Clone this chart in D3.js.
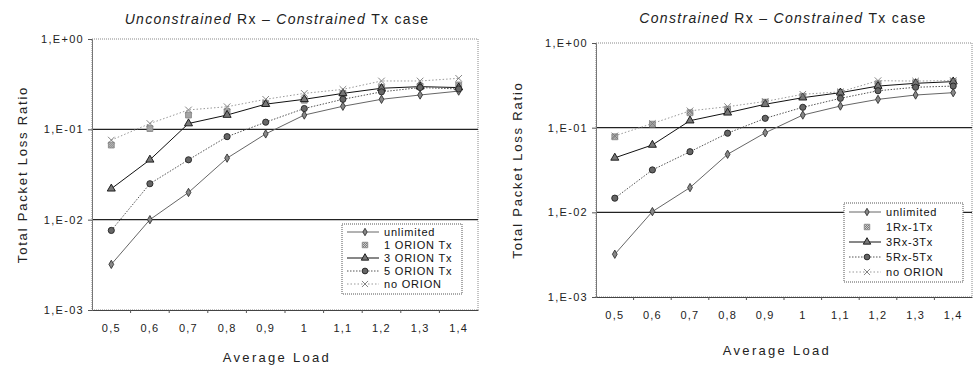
<!DOCTYPE html>
<html>
<head>
<meta charset="utf-8">
<script src="https://cdn.jsdelivr.net/npm/d3@7"></script>
<style>
  body { margin: 0; background: #fff; }
  svg { font-family: "Liberation Sans", Arial, sans-serif; }
</style>
</head>
<body>
<div id="result"></div>
<script>
// categories (average load) and y tick labels
const loads = ["0,5", "0,6", "0,7", "0,8", "0,9", "1", "1,1", "1,2", "1,3", "1,4"];
const yTicks = [1e-3, 1e-2, 1e-1, 1];
const yTickLabels = ["1,E-03", "1,E-02", "1,E-01", "1,E+00"];

// left chart: Unconstrained Rx - Constrained Tx
const leftNames = ["unlimited", "1 ORION Tx", "3 ORION Tx", "5 ORION Tx", "no ORION"];
const leftUnlimited = [0.0032, 0.010, 0.020, 0.048, 0.089, 0.144, 0.18, 0.215, 0.24, 0.265];
const leftOrion1 = [0.067, 0.102, 0.144, 0.157, 0.194, 0.21, 0.25, 0.29, 0.30, 0.31];
const leftOrion3 = [0.022, 0.046, 0.116, 0.144, 0.19, 0.215, 0.25, 0.285, 0.297, 0.29];
const leftOrion5 = [0.0076, 0.025, 0.046, 0.083, 0.12, 0.17, 0.215, 0.26, 0.29, 0.28];
const leftNoOrion = [0.076, 0.116, 0.164, 0.178, 0.215, 0.25, 0.277, 0.343, 0.343, 0.367];

// right chart: Constrained Rx - Constrained Tx
const rightNames = ["unlimited", "1Rx-1Tx", "3Rx-3Tx", "5Rx-5Tx", "no ORION"];
const rightUnlimited = [0.0032, 0.0102, 0.0196, 0.0485, 0.087, 0.141, 0.18, 0.216, 0.243, 0.259];
const right1 = [0.078, 0.11, 0.15, 0.165, 0.2, 0.235, 0.26, 0.33, 0.34, 0.35];
const right3 = [0.044, 0.0625, 0.121, 0.15, 0.189, 0.226, 0.259, 0.31, 0.334, 0.35];
const right5 = [0.0147, 0.0317, 0.052, 0.086, 0.129, 0.174, 0.222, 0.273, 0.30, 0.31];
const rightNoOrion = [0.08, 0.112, 0.158, 0.177, 0.204, 0.248, 0.265, 0.359, 0.355, 0.36];

// line/marker look per series index
const styles = [
    { stroke: "#666", dash: null, line: true, symbol: d3.symbolDiamond, size: 20, fill: "#888", mstroke: "#333" },
    { stroke: "#aaa", dash: "1,3", line: false, symbol: d3.symbolSquare, size: 34, fill: "url(#hatch)", mstroke: "#888" },
    { stroke: "#111", dash: null, line: true, symbol: d3.symbolTriangle, size: 28, fill: "#777", mstroke: "#111" },
    { stroke: "#555", dash: "1.5,1.5", line: true, symbol: d3.symbolCircle, size: 30, fill: "#666", mstroke: "#222" },
    { stroke: "#999", dash: "1.5,2", line: true, symbol: d3.symbolX, size: 30, fill: "none", mstroke: "#777" }
];

const svg = d3.select("#result").append("svg")
    .attr("width", 975)
    .attr("height", 366);

// hatch pattern for the "1 ORION" marker
const pat = svg.append("defs").append("pattern")
    .attr("id", "hatch")
    .attr("patternUnits", "userSpaceOnUse")
    .attr("width", 2).attr("height", 2);
pat.append("rect").attr("width", 2).attr("height", 2).attr("fill", "#ccc");
pat.append("path").attr("d", "M0,2 L2,0").attr("stroke", "#666").attr("stroke-width", 0.8);

function drawPanel(cfg) {
    const g = svg.append("g");

    const x = d3.scaleBand().domain(loads).range([cfg.left, cfg.right]);
    const y = d3.scaleLog().domain([1e-3, 1]).range([cfg.bottom, cfg.top]);
    const cx = d => x(d) + x.bandwidth() / 2;

    // plot border (dotted grey)
    g.append("rect")
        .attr("x", cfg.left).attr("y", cfg.top)
        .attr("width", cfg.right - cfg.left).attr("height", cfg.bottom - cfg.top)
        .attr("fill", "none")
        .attr("stroke", "#888")
        .attr("stroke-dasharray", "1,1");

    // horizontal grid lines at 1E-01 and 1E-02
    g.selectAll(".grid")
        .data([1e-1, 1e-2])
        .enter()
        .append("line")
        .attr("x1", cfg.left).attr("x2", cfg.right)
        .attr("y1", d => y(d)).attr("y2", d => y(d))
        .attr("stroke", "#222")
        .attr("stroke-width", 1.1);

    // y axis
    g.append("g")
        .attr("transform", `translate(${cfg.left},0)`)
        .call(d3.axisLeft(y).tickValues(yTicks).tickSize(4).tickPadding(4)
            .tickFormat((d, i) => yTickLabels[i]))
        .call(a => a.select(".domain").attr("stroke", "#777"))
        .call(a => a.selectAll("line").attr("stroke", "#555"))
        .call(a => a.selectAll("text").attr("font-size", 11).attr("fill", "#222")
            .attr("letter-spacing", 1.3).attr("font-family", "Liberation Sans, Arial"));

    // x axis: labels at category centres, ticks between categories
    g.append("g")
        .attr("transform", `translate(0,${cfg.bottom})`)
        .call(d3.axisBottom(x).tickSize(0).tickPadding(14))
        .call(a => a.select(".domain").attr("stroke", "#444"))
        .call(a => a.selectAll("text").attr("font-size", 11).attr("fill", "#222")
            .attr("letter-spacing", 1.2).attr("font-family", "Liberation Sans, Arial"));

    g.selectAll(".xtick")
        .data(loads.slice(1))
        .enter()
        .append("line")
        .attr("x1", d => x(d)).attr("x2", d => x(d))
        .attr("y1", cfg.bottom).attr("y2", cfg.bottom + 3)
        .attr("stroke", "#555");

    const line = d3.line()
        .x((d, i) => cx(loads[i]))
        .y(d => y(d));

    cfg.series.forEach((vals, si) => {
        const st = styles[si];
        if (st.line) {
            g.append("path")
                .datum(vals)
                .attr("fill", "none")
                .attr("stroke", st.stroke)
                .attr("stroke-width", 1)
                .attr("stroke-dasharray", st.dash)
                .attr("d", line);
        }
    });
    // markers drawn after all lines
    cfg.series.forEach((vals, si) => {
        const st = styles[si];
        g.selectAll(".m" + si)
            .data(vals)
            .enter()
            .append("path")
            .attr("transform", (d, i) => `translate(${cx(loads[i])},${y(d)})`)
            .attr("d", d3.symbol().type(st.symbol).size(st.size))
            .attr("fill", st.fill)
            .attr("stroke", st.mstroke)
            .attr("stroke-width", 0.9);
    });

    // legend
    const lg = g.append("g");
    lg.append("rect")
        .attr("x", cfg.legend.x).attr("y", cfg.legend.y)
        .attr("width", cfg.legend.w).attr("height", cfg.legend.h)
        .attr("fill", "#fff")
        .attr("stroke", "#555")
        .attr("stroke-dasharray", "1,1");
    cfg.names.forEach((name, si) => {
        const st = styles[si];
        const ly = cfg.legend.y + cfg.legend.first + si * cfg.legend.step;
        const lx = cfg.legend.x + 5;
        if (st.line) {
            lg.append("line")
                .attr("x1", lx).attr("x2", lx + 32)
                .attr("y1", ly).attr("y2", ly)
                .attr("stroke", st.stroke)
                .attr("stroke-dasharray", st.dash);
        }
        lg.append("path")
            .attr("transform", `translate(${lx + 18},${ly})`)
            .attr("d", d3.symbol().type(st.symbol).size(st.size - 4))
            .attr("fill", st.fill)
            .attr("stroke", st.mstroke)
            .attr("stroke-width", 0.9);
        lg.append("text")
            .attr("x", lx + 37).attr("y", ly)
            .attr("dy", "0.35em")
            .attr("font-size", 11)
            .attr("letter-spacing", 0.8)
            .attr("fill", "#111")
            .text(name);
    });

    // chart title: italic words mixed with upright ones
    const t = g.append("text")
        .attr("x", cfg.titleX).attr("y", cfg.titleY)
        .attr("text-anchor", "middle")
        .attr("font-size", 14)
        .attr("letter-spacing", 1.3)
        .attr("fill", "#222");
    cfg.title.forEach(p => {
        t.append("tspan")
            .attr("font-style", p[1] ? "italic" : "normal")
            .text(p[0]);
    });

    // axis titles
    g.append("text")
        .attr("x", cfg.xTitleX).attr("y", cfg.xTitleY)
        .attr("text-anchor", "middle")
        .attr("font-size", 13)
        .attr("letter-spacing", 2.3)
        .attr("fill", "#222")
        .text("Average Load");

    g.append("text")
        .attr("transform", `translate(${cfg.yTitleX},${(cfg.top + cfg.bottom) / 2}) rotate(-90)`)
        .attr("text-anchor", "middle")
        .attr("font-size", 13)
        .attr("letter-spacing", 1.8)
        .attr("fill", "#222")
        .text("Total Packet Loss Ratio");
}

drawPanel({
    left: 92, right: 478, top: 39, bottom: 310,
    series: [leftUnlimited, leftOrion1, leftOrion3, leftOrion5, leftNoOrion],
    names: leftNames,
    legend: { x: 342, y: 224, w: 120, h: 70, first: 8, step: 13 },
    title: [["Unconstrained ", true], ["Rx \u2013 ", false], ["Constrained ", true], ["Tx case", false]],
    titleX: 277, titleY: 24,
    xTitleX: 277, xTitleY: 362, yTitleX: 27
});

drawPanel({
    left: 596, right: 972, top: 43, bottom: 297,
    series: [rightUnlimited, right1, right3, right5, rightNoOrion],
    names: rightNames,
    legend: { x: 844, y: 203, w: 119, h: 79, first: 9, step: 15 },
    title: [["Constrained ", true], ["Rx \u2013 ", false], ["Constrained ", true], ["Tx case", false]],
    titleX: 783, titleY: 23,
    xTitleX: 777, xTitleY: 355, yTitleX: 522
});
</script>
</body>
</html>
